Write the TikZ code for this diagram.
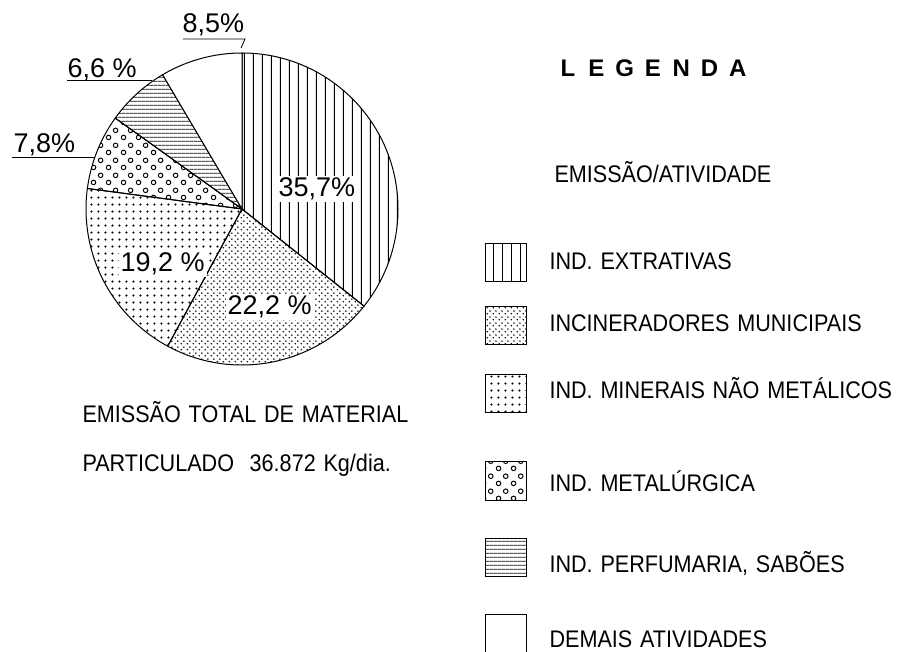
\documentclass[tikz,border=0pt]{standalone}
\usepackage{fontspec}
\setmainfont{Liberation Sans}
\newfontfamily\letfont[FakeStretch=0.9,WordSpace=1.3]{Liberation Sans}
\usetikzlibrary{patterns}

% fill patterns of the slices
\pgfdeclarepatternformonly{vstripes}{\pgfpointorigin}{\pgfpoint{8.9pt}{8.9pt}}{\pgfpoint{8.9pt}{8.9pt}}{
    \pgfsetlinewidth{0.9pt}
    \pgfpathmoveto{\pgfpoint{4.45pt}{0pt}}
    \pgfpathlineto{\pgfpoint{4.45pt}{8.9pt}}
    \pgfusepath{stroke}}
\pgfdeclarepatternformonly{hstripes}{\pgfpointorigin}{\pgfpoint{3.8pt}{3.8pt}}{\pgfpoint{3.8pt}{3.8pt}}{
    \pgfsetlinewidth{0.7pt}
    \pgfpathmoveto{\pgfpoint{0pt}{1.9pt}}
    \pgfpathlineto{\pgfpoint{3.8pt}{1.9pt}}
    \pgfusepath{stroke}}
\pgfdeclarepatternformonly{fdots}{\pgfpointorigin}{\pgfpoint{6pt}{6pt}}{\pgfpoint{6pt}{6pt}}{
    \pgfpathcircle{\pgfpoint{1.5pt}{1.5pt}}{0.95pt}
    \pgfpathcircle{\pgfpoint{4.5pt}{4.5pt}}{0.95pt}
    \pgfusepath{fill}}
\pgfdeclarepatternformonly{sdots}{\pgfpointorigin}{\pgfpoint{7.4pt}{7.4pt}}{\pgfpoint{7.4pt}{7.4pt}}{
    \pgfpathcircle{\pgfpoint{3.7pt}{3.7pt}}{1.25pt}
    \pgfusepath{fill}}
\pgfdeclarepatternformonly{rings}{\pgfpointorigin}{\pgfpoint{15pt}{15pt}}{\pgfpoint{15pt}{15pt}}{
    \pgfsetlinewidth{1pt}
    \pgfpathcircle{\pgfpoint{3.75pt}{3.75pt}}{2.4pt}
    \pgfpathcircle{\pgfpoint{11.25pt}{11.25pt}}{2.4pt}
    \pgfusepath{stroke}}

\begin{document}
\begin{tikzpicture}[x=1pt,y=1pt,line width=1pt]
    \tikzstyle{pct}=[anchor=base west,inner sep=0pt,font=\fontsize{27}{30}\selectfont]
    \tikzstyle{pct box}=[pct,fill=white,inner sep=2pt]
    \tikzstyle{legtext}=[anchor=base west,inner sep=0pt,font=\letfont\fontsize{24}{28}\selectfont]
    \tikzstyle{legtitle}=[anchor=base,inner sep=0pt,font=\bfseries\fontsize{24}{28}\selectfont]
    \tikzstyle{legbox}=[draw,minimum width=41pt,minimum height=38pt,inner sep=0pt]
    \tikzstyle{leader}=[line width=0.8pt]

    \tikzstyle{sl-ext}=[pattern=vstripes]
    \tikzstyle{sl-inc}=[pattern=fdots]
    \tikzstyle{sl-min}=[pattern=sdots]
    \tikzstyle{sl-met}=[pattern=rings]
    \tikzstyle{sl-perf}=[pattern=hstripes]
    \tikzstyle{sl-dem}=[fill=white]

    \useasboundingbox (0,0) rectangle (902,651);

    % Draw the pie slices
    \coordinate (pc) at (242,442);
    \foreach \a/\b/\sl in {90/-38.52/sl-ext,-38.52/-118.44/sl-inc,-118.44/-187.56/sl-min,
                           -187.56/-215.64/sl-met,-215.64/-239.4/sl-perf,-239.4/-270/sl-dem}
        \draw[\sl] (pc) -- ++(\a:156) arc[start angle=\a, end angle=\b, radius=156] -- cycle;

    % Percentages inside the pie
    \node[pct box] (p-ext) at (276,454) {35,7\%};
    \node[pct box] (p-inc) at (225,336) {22,2 \%};
    \node[pct box] (p-min) at (118,379) {19,2 \%};

    % Percentages outside, with their leaders
    \node[pct] (p-dem) at (182,618) {8,5\%};
    \node[pct] (p-perf) at (67,573) {6,6 \%};
    \node[pct] (p-met) at (13,498) {7,8\%};
    \coordinate (u-dem-a) at (183,612);
    \coordinate (u-dem-b) at (245,612);
    \coordinate (u-dem-c) at (241,603);
    \coordinate (u-perf-a) at (67,571);
    \coordinate (u-perf-b) at (152,571);
    \coordinate (u-met-a) at (12,494);
    \coordinate (u-met-b) at (95,494);
    \draw[leader] (u-dem-a) -- (u-dem-b) -- (u-dem-c);
    \draw[leader] (u-perf-a) -- (u-perf-b);
    \draw[leader] (u-met-a) -- (u-met-b);

    % Total under the pie
    \node[legtext] (tot-1) at (82,228) {EMISSÃO TOTAL DE MATERIAL};
    \node[legtext] (tot-2) at (82,179) {PARTICULADO\ \ 36.872 Kg/dia.};

    % Legend
    \foreach \ch [count=\i from 0] in {L,E,G,E,N,D,A}
        \node[legtitle] (t-\i) at (568+28.3*\i, 574) {\ch};
    \node[legtext] (l-head) at (554,468) {EMISSÃO/ATIVIDADE};

    \foreach \yb/\yt/\sl/\nm/\txt in {388.5/381/sl-ext/ext/{IND. EXTRATIVAS},
                                      325.5/319/sl-inc/inc/{INCINERADORES MUNICIPAIS},
                                      257.5/252/sl-min/min/{IND. MINERAIS NÃO METÁLICOS},
                                      170/160/sl-met/met/{IND. METALÚRGICA},
                                      94/79/sl-perf/perf/{IND. PERFUMARIA, SABÕES},
                                      17.5/4/sl-dem/dem/{DEMAIS ATIVIDADES}}
    {
        \node[legbox,\sl] (b-\nm) at (506,\yb) {};
        \node[legtext] (l-\nm) at (549,\yt) {\txt};
    }
\end{tikzpicture}
\end{document}
